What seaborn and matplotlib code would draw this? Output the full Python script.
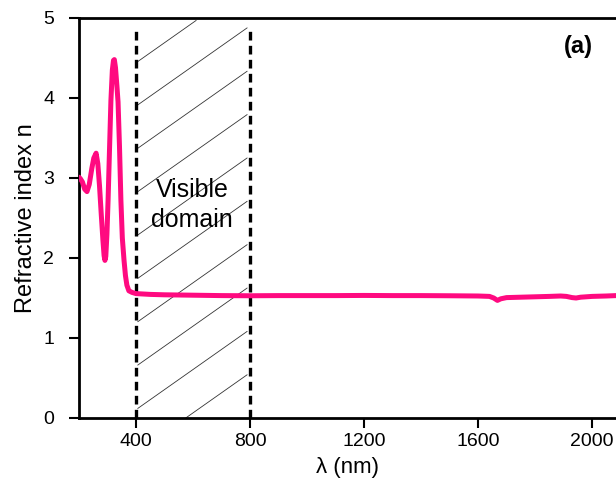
import numpy as np
import pandas as pd
import matplotlib
matplotlib.use("Agg")
import matplotlib.pyplot as plt
import seaborn as sns

# ---- data ----
wavelength = [200, 205, 212, 220, 228, 236, 245, 252, 260, 266, 272, 278, 284, 288, 291,
              294, 298, 302, 307, 312, 317, 321, 324, 328, 333, 337, 342, 347, 352, 358,
              363, 368, 375, 386, 400, 450, 500, 600, 700, 800, 900, 1000, 1100, 1200,
              1300, 1400, 1500, 1600, 1640, 1655, 1668, 1680, 1700, 1750, 1800, 1850,
              1890, 1910, 1930, 1944, 1960, 2000, 2050, 2084]
refr_index = [3.01, 2.99, 2.95, 2.86, 2.83, 2.92, 3.12, 3.25, 3.31, 3.18, 2.90, 2.55, 2.22, 2.03, 1.97,
              2.02, 2.30, 2.72, 3.35, 3.97, 4.35, 4.47, 4.48, 4.38, 4.15, 3.95, 3.40, 2.72, 2.25, 1.97,
              1.78, 1.66, 1.59, 1.57, 1.555, 1.545, 1.54, 1.535, 1.53, 1.528, 1.53, 1.53, 1.53, 1.532,
              1.53, 1.53, 1.528, 1.525, 1.52, 1.50, 1.47, 1.49, 1.505, 1.51, 1.515, 1.52,
              1.525, 1.52, 1.505, 1.50, 1.51, 1.52, 1.525, 1.53]
visible_range = [400, 800]
x_ticks = [400, 800, 1200, 1600, 2000]
y_ticks = [0, 1, 2, 3, 4, 5]

df = pd.DataFrame({"wavelength": wavelength, "n": refr_index})

sns.set_style("ticks")
plt.rcParams["font.family"] = ["Liberation Sans", "DejaVu Sans"]
plt.rcParams["text.color"] = "black"
plt.rcParams["axes.labelcolor"] = "black"

fig = plt.figure(figsize=(6.16, 4.8), dpi=100)
ax = fig.add_axes([79 / 616, 62 / 480, 1 - 79 / 616, 400 / 480])

xmin, xmax = 200, 2084
ymin, ymax = 0, 5

# hatching inside the visible domain
x0, x1 = visible_range
slope = 0.00251          # data units of n per nm
spacing = 0.542          # vertical distance between hatch lines
start = 4.44
offsets = np.arange(start - 12 * spacing, start + spacing / 2, spacing)
for c in offsets:
    xs = np.array([x0 + 6.0, x1 - 10.0])
    ys = c + slope * (xs - x0)
    if ys[1] < ymin or ys[0] > ymax:
        continue
    if ys[0] < ymin:
        xs[0] = x0 + (ymin - c) / slope
        ys[0] = ymin
    if ys[1] > ymax - 0.03:
        xs[1] = x0 + (ymax - 0.03 - c) / slope
        ys[1] = ymax - 0.03
    ax.plot(xs, ys, color="#333333", lw=0.6, zorder=1)

for xv in visible_range:
    ax.axvline(xv, ymax=0.975, color="black", lw=2.4, linestyle=(0, (2.6, 1.6)), zorder=2)

sns.lineplot(data=df, x="wavelength", y="n", ax=ax, color="#FF0A80", lw=3.6,
             zorder=3, solid_joinstyle="round", solid_capstyle="round")

ax.set_xlim(xmin, xmax)
ax.set_ylim(ymin, ymax)
ax.set_xticks(x_ticks)
ax.set_yticks(y_ticks)
ax.tick_params(axis="x", direction="out", length=7, width=1.5, labelsize=14,
               colors="black", pad=4)
ax.tick_params(axis="y", direction="out", length=7, width=1.5, labelsize=14,
               colors="black", pad=11)
for s in ["left", "bottom", "top"]:
    ax.spines[s].set_linewidth(2)
    ax.spines[s].set_color("black")
ax.spines["right"].set_visible(False)

ax.set_xlabel("λ (nm)", fontsize=16, labelpad=5)
ax.set_ylabel("Refractive index n", fontsize=17, labelpad=4)

ax.text(596, 2.76, "Visible", fontsize=18, ha="center", va="baseline")
ax.text(596, 2.39, "domain", fontsize=18, ha="center", va="baseline")
ax.text(1951, 4.64, "(a)", fontsize=17, fontweight="bold", ha="center", va="center")

fig.savefig("out.png", dpi=100)
